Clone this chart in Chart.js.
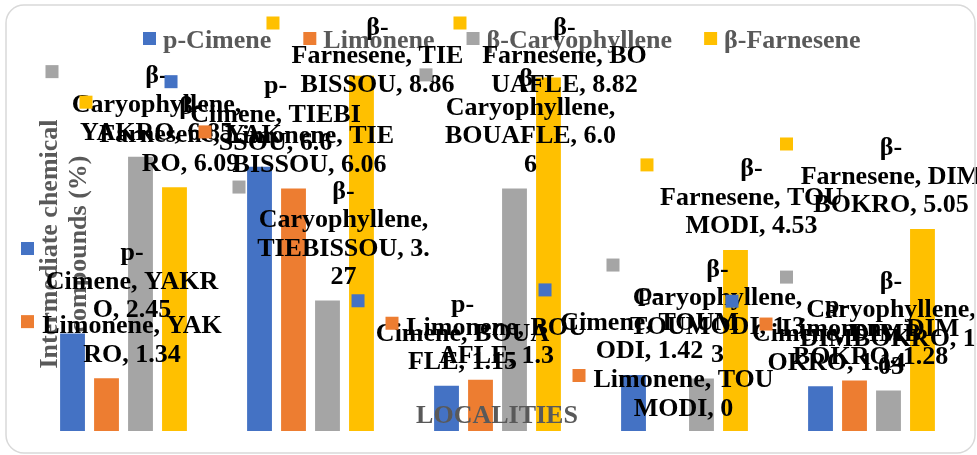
<!DOCTYPE html>
<html>
<head>
<meta charset="utf-8">
<script src="https://cdn.jsdelivr.net/npm/chart.js@4/dist/chart.umd.min.js"></script>
<style>
html, body { margin: 0; padding: 0; background: #fff; }
canvas { display: block; }
</style>
</head>
<body>
<canvas id="chart" width="977" height="455"></canvas>
<script>
var localities = ['YAKRO', 'TIEBISSOU', 'BOUAFLE', 'TOUMODI', 'DIMBOKRO'];
var seriesNames = ['p-Cimene', 'Limonene', 'β-Caryophyllene', 'β-Farnesene'];
var pCimene = [2.45, 6.6, 1.15, 1.42, 1.14];
var limonene = [1.34, 6.06, 1.3, 0, 1.28];
var caryophyllene = [6.85, 3.27, 6.06, 1.33, 1.03];
var farnesene = [6.09, 8.86, 8.82, 4.53, 5.05];
var colors = ['#4472C4', '#ED7D31', '#A5A5A5', '#FFC000'];

// characters per line where Excel wrapped each callout (one row per series)
var labelBreaks = [
    [[2, 12], [2, 13], [2, 12], [2, 12], [2, 12]],
    [[13], [13], [13], [13], [13]],
    [[2, 15], [2, 15, 13], [2, 15, 12], [2, 15, 12], [2, 15, 12]],
    [[2, 14], [2, 14], [2, 13], [2, 14], [2, 14]]
];

var FONT = 'bold 26px "Liberation Serif", "Times New Roman", serif';
var LINE = 28.5;

function wrapLabel(text, counts) {
    var lines = [], pos = 0;
    counts.forEach(function (n) {
        lines.push(text.substr(pos, n).trim());
        pos += n;
    });
    lines.push(text.substr(pos).trim());
    return lines;
}

var overlay = {
    id: 'overlay',
    afterDatasetsDraw: function (chart) {
        var ctx = chart.ctx;
        ctx.save();
        ctx.font = FONT;
        ctx.fillStyle = '#595959';
        ctx.textAlign = 'center';
        ctx.textBaseline = 'alphabetic';

        // axis titles sit on top of the bars, as in the original
        ctx.fillText('LOCALITIES', 497, 423);
        ctx.save();
        ctx.translate(57, 244);
        ctx.rotate(-Math.PI / 2);
        ctx.fillText('Intermediate chemical', 0, 0);
        ctx.restore();
        ctx.save();
        ctx.translate(86, 244);
        ctx.rotate(-Math.PI / 2);
        ctx.fillText('compounds (%)', 0, 0);
        ctx.restore();

        // legend
        ctx.textAlign = 'left';
        var lx = 143;
        seriesNames.forEach(function (name, s) {
            ctx.fillStyle = colors[s];
            ctx.fillRect(lx, 32, 13, 13);
            ctx.fillStyle = '#595959';
            ctx.fillText(name, lx + 20, 48);
            lx += 20 + ctx.measureText(name).width + 32;
        });

        // data callouts: series, locality, value
        ctx.textAlign = 'center';
        ctx.fillStyle = '#000';
        var keys = [];
        chart.data.datasets.forEach(function (ds, s) {
            var meta = chart.getDatasetMeta(s);
            meta.data.forEach(function (bar, i) {
                var text = ds.label + ', ' + localities[i] + ', ' + ds.data[i];
                var lines = wrapLabel(text, labelBreaks[s][i]);
                var cx = Math.min(Math.max(bar.x + 16, 132), 891);
                var base = Math.max(bar.y - 15.5 - LINE * (lines.length - 1), 34.5);
                lines.forEach(function (ln, k) {
                    ctx.fillText(ln, cx, base + LINE * k);
                });
                keys.push([cx - 111, base - 18, colors[s]]);
            });
        });
        keys.forEach(function (k) {
            ctx.fillStyle = k[2];
            ctx.fillRect(k[0], k[1], 13, 13);
        });
        ctx.restore();
    },
    afterDraw: function (chart) {
        var ctx = chart.ctx;
        var x = 6, y = 5, w = 969, h = 448, r = 18;
        ctx.save();
        ctx.strokeStyle = '#D9D9D9';
        ctx.lineWidth = 1.5;
        ctx.beginPath();
        ctx.moveTo(x + r, y);
        ctx.arcTo(x + w, y, x + w, y + h, r);
        ctx.arcTo(x + w, y + h, x, y + h, r);
        ctx.arcTo(x, y + h, x, y, r);
        ctx.arcTo(x, y, x + w, y, r);
        ctx.closePath();
        ctx.stroke();
        ctx.restore();
    }
};

var seriesData = [pCimene, limonene, caryophyllene, farnesene];

new Chart(document.getElementById('chart'), {
    type: 'bar',
    data: {
        labels: localities,
        datasets: seriesNames.map(function (name, s) {
            return {
                label: name,
                data: seriesData[s],
                backgroundColor: colors[s],
                borderColor: 'rgba(255,255,255,0.45)',
                borderWidth: 1,
                categoryPercentage: 0.727,
                barPercentage: 0.79
            };
        })
    },
    options: {
        responsive: false,
        animation: false,
        layout: { padding: { left: 30, right: 12, top: 29, bottom: 24 } },
        plugins: {
            legend: { display: false },
            tooltip: { enabled: false }
        },
        scales: {
            x: { display: false },
            y: { display: false, min: 0, max: 10 }
        }
    },
    plugins: [overlay]
});
</script>
</body>
</html>
